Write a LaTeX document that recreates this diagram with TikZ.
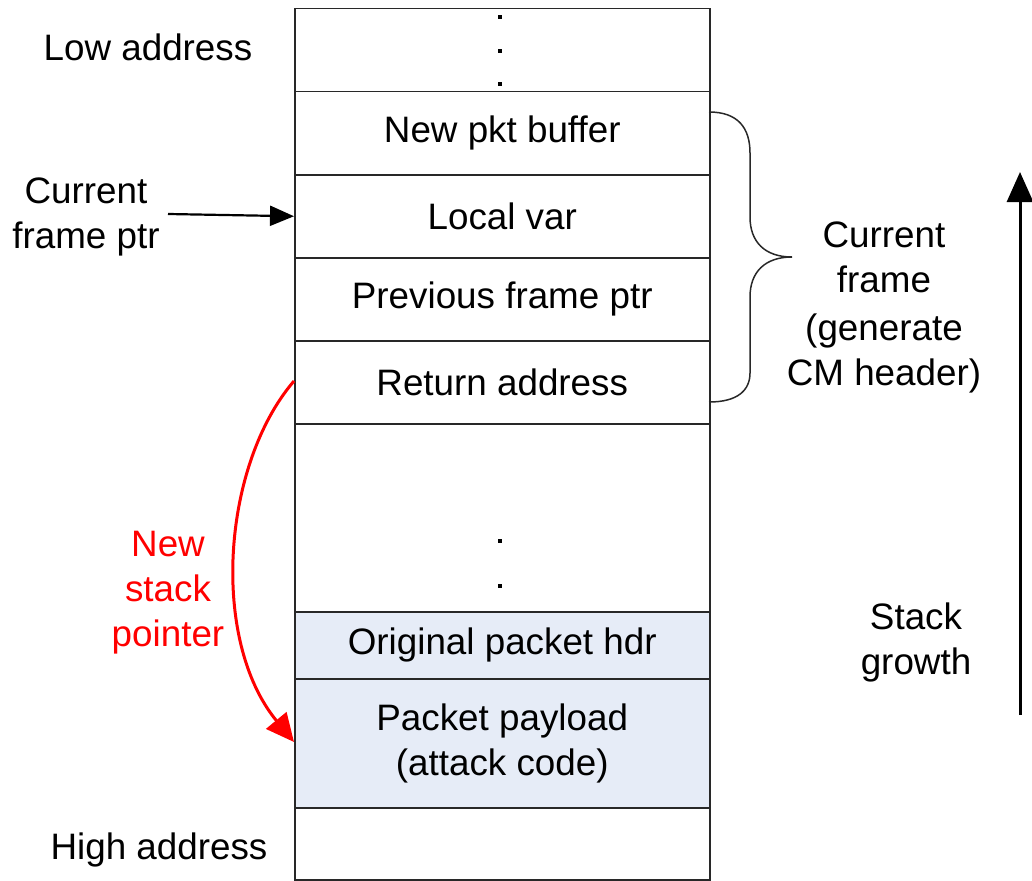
\documentclass[tikz,border=0pt]{standalone}
\usepackage{fontspec}
\setmainfont{Liberation Sans}
\usetikzlibrary{arrows.meta}
\definecolor{pktfill}{RGB}{230,236,247}
\definecolor{boxline}{RGB}{40,40,40}
\begin{document}
\begin{tikzpicture}[x=1pt,y=-1pt,
  every node/.style={font=\fontsize{36.8}{45}\selectfont, align=center, inner sep=0pt},
  row/.style={draw=boxline, line width=1.5pt, minimum width=415pt, anchor=north west},
  pkt/.style={row, fill=pktfill},
  dotmark/.style={fill=black, draw=none, minimum size=3.2pt, shape=rectangle},
  lbl/.style={},
  redlbl/.style={text=red}]
\useasboundingbox (0,0) rectangle (1032,880);
% stack rows
\node[row, minimum height=83pt] (r0) at (294,8) {};
\node[row, minimum height=83pt] (r1) at (294,91) {New pkt buffer};
\node[row, minimum height=83pt] (r2) at (294,174) {Local var};
\node[row, minimum height=83pt] (r3) at (294,257) {Previous frame ptr};
\node[row, minimum height=83pt] (r4) at (294,340) {Return address};
\node[row, minimum height=188pt] (r5) at (294,423) {};
\node[pkt, minimum height=67pt] (r6) at (294,611) {Original packet hdr};
\node[pkt, minimum height=129pt] (r7) at (294,678) {Packet payload\\(attack code)};
\node[row, minimum height=72pt] (r8) at (294,807) {};
% dots
\node[dotmark] (d1) at (500,17) {};
\node[dotmark] (d2) at (500,51) {};
\node[dotmark] (d3) at (500,84) {};
\node[dotmark] (d4) at (500,541) {};
\node[dotmark] (d5) at (500,586) {};
% left labels
\node[lbl] (low) at (148,47) {Low address};
\node[lbl] (high) at (159,850) {High address};
\node[lbl] (cfp) at (86,217) {Current\\frame ptr};
\coordinate (cfpend) at (168,214);
\draw[line width=2.2pt, -{Triangle[length=24pt,width=20pt]}] (cfpend) -- (r2.west);
% red arrow
\node[redlbl] (nsp) at (168,593) {New\\stack\\pointer};
\coordinate (rs) at (294,381);
\coordinate (re) at (294,742);
\draw[red, line width=3pt, -{Triangle[length=28pt,width=26pt]}] (rs) .. controls (222,465) and (210,640) .. (re);
% brace
\coordinate (bt) at (709,112);
\coordinate (bb) at (709,402);
\coordinate (btip) at (792,257);
\draw[line width=1.5pt, boxline] (bt) .. controls (738,112) and (750,128) .. (750,153) -- (750,217)
  .. controls (750,242) and (765,257) .. (btip)
  .. controls (765,257) and (750,272) .. (750,297) -- (750,373)
  .. controls (750,390) and (738,402) .. (bb);
\node[lbl] (cf) at (884,257) {Current\\frame};
\node[lbl] (gen) at (884,353) {(generate\\CM header)};
% stack growth
\coordinate (gb) at (1020,715);
\coordinate (gt) at (1020,172);
\draw[line width=3pt, -{Triangle[length=30pt,width=26pt]}] (gb) -- (gt);
\node[lbl] (sg) at (916,642) {Stack\\growth};
\end{tikzpicture}
\end{document}
